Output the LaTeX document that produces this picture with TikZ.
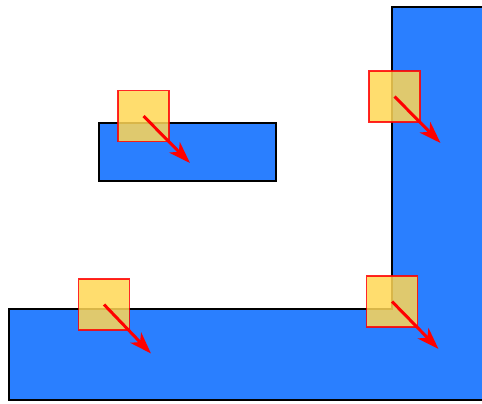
\documentclass[tikz,border=0pt]{standalone}
\usepackage{tikz}
\usepackage{xcolor}
\usetikzlibrary{arrows.meta, calc}
\definecolor{wallblue}{HTML}{2A7FFF}
\definecolor{probeyellow}{HTML}{FFD755}
\definecolor{velred}{HTML}{FF0000}
\tikzset{
  % Solid geometry — blue fill, black outline
  wallbody/.style={fill=wallblue, draw=black, line width=1.1pt},
  % Probe boxes — translucent yellow
  probe/.style={
    draw=velred, fill=probeyellow, fill opacity=0.85, draw opacity=0.85,
    minimum size=1.02cm, inner sep=0pt, line width=0.8pt,
  },
  % Velocity arrows
  velarr/.style={-{Stealth[length=12.5pt, width=8.5pt, inset=3.5pt]},
                 line width=1.7pt, velred},
}

\begin{document}
\begin{tikzpicture}[x=0.02cm, y=-0.02cm]
    \useasboundingbox (0,0) rectangle (482,403);
    % L-shaped wall and floor
    \fill[wallblue] (482,7) -- (392,7) -- (392,309) -- (9,309)
      -- (9,400) -- (482,400) -- cycle;
    \draw[line width=1.1pt, black] (482,7) -- (392,7) -- (392,309)
      -- (9,309) -- (9,400) -- (482,400);
    % Floating platform
    \draw[wallbody] (99,123) rectangle (276,181);

    \node[probe] (p1) at (143.5,116) {};
    \coordinate (v1) at ($(p1.center)+(46.5,47)$);
    \draw[velarr] (p1.center) -- (v1);

    \node[probe] (p2) at (394.5,96.5) {};
    \coordinate (v2) at ($(p2.center)+(46,46.5)$);
    \draw[velarr] (p2.center) -- (v2);

    \node[probe] (p3) at (104,304.5) {};
    \coordinate (v3) at ($(p3.center)+(47,49)$);
    \draw[velarr] (p3.center) -- (v3);

    \node[probe] (p4) at (392,301.5) {};
    \coordinate (v4) at ($(p4.center)+(46.5,47.5)$);
    \draw[velarr] (p4.center) -- (v4);
  \end{tikzpicture}
\end{document}
